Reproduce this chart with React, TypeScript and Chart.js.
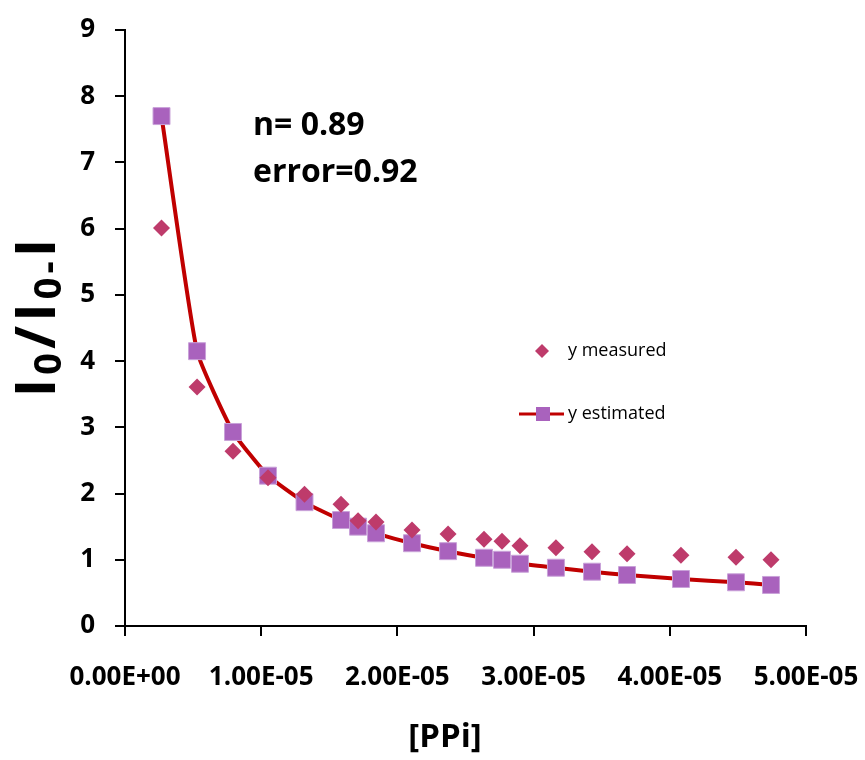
import React, { useEffect, useRef } from "react";
import { Chart, registerables } from "chart.js";

Chart.register(...registerables);

// ---- data ----
const xValues = [
  2.68e-6, 5.29e-6, 7.93e-6, 1.05e-5, 1.318e-5, 1.586e-5, 1.711e-5, 1.843e-5,
  2.107e-5, 2.372e-5, 2.636e-5, 2.768e-5, 2.9e-5, 3.164e-5, 3.429e-5,
  3.686e-5, 4.082e-5, 4.486e-5, 4.743e-5,
];
const yMeasured = [
  6.01, 3.61, 2.64, 2.24, 1.99, 1.84, 1.59, 1.57, 1.45, 1.39, 1.31, 1.28, 1.21,
  1.18, 1.12, 1.09, 1.07, 1.04, 1.0,
];
const yEstimated = [
  7.7, 4.15, 2.93, 2.27, 1.87, 1.6, 1.5, 1.4, 1.25, 1.13, 1.03, 1.0, 0.94,
  0.88, 0.82, 0.77, 0.71, 0.66, 0.62,
];
const xTickLabels = [
  "0.00E+00",
  "1.00E-05",
  "2.00E-05",
  "3.00E-05",
  "4.00E-05",
  "5.00E-05",
];
const yTickLabels = ["0", "1", "2", "3", "4", "5", "6", "7", "8", "9"];
const seriesNames = ["y measured", "y estimated"];
const annotationLines = ["n= 0.89", "error=0.92"];
const xTitle = "[PPi]";
// y title pieces: [text, isSubscript]
const yTitleRuns: [string, boolean][] = [
  ["I", false],
  ["0", true],
  ["/", false],
  ["I", false],
  ["0", true],
  ["-", true],
  ["I", false],
];

const FONT = '"Open Sans", "Noto Sans", sans-serif';
const MEASURED_COLOR = "#BE3B6B";
const EST_FILL = "#A962BD";
const EST_BORDER = "#C9A2D9";
const LINE_COLOR = "#C00000";

const overlay = {
  id: "overlay",
  afterDraw(chart: any) {
    const ctx: CanvasRenderingContext2D = chart.ctx;
    ctx.save();
    ctx.fillStyle = "#000";

    // annotation text
    ctx.font = `bold 32px ${FONT}`;
    ctx.textAlign = "left";
    ctx.textBaseline = "alphabetic";
    ctx.fillText(annotationLines[0], 253, 135);
    ctx.fillText(annotationLines[1], 253, 182);

    // legend
    ctx.font = `18px ${FONT}`;
    ctx.textBaseline = "middle";
    ctx.fillStyle = MEASURED_COLOR;
    ctx.beginPath();
    ctx.moveTo(542 - 7, 351);
    ctx.lineTo(542, 351 - 7);
    ctx.lineTo(542 + 7, 351);
    ctx.lineTo(542, 351 + 7);
    ctx.closePath();
    ctx.fill();
    ctx.fillStyle = "#000";
    ctx.fillText(seriesNames[0], 568, 351);
    ctx.strokeStyle = LINE_COLOR;
    ctx.lineWidth = 3;
    ctx.beginPath();
    ctx.moveTo(519, 414);
    ctx.lineTo(564, 414);
    ctx.stroke();
    ctx.fillStyle = EST_FILL;
    ctx.fillRect(536, 407, 14, 14);
    ctx.fillStyle = "#000";
    ctx.fillText(seriesNames[1], 568, 414);

    // x title
    ctx.font = `bold 33px ${FONT}`;
    ctx.textAlign = "center";
    ctx.textBaseline = "alphabetic";
    ctx.fillText(xTitle, 445, 747);

    // y title (rotated)
    const bigFont = `bold 56px ${FONT}`;
    const subFont = `bold 38px ${FONT}`;
    const gap = 4;
    let total = 0;
    const widths = yTitleRuns.map(([t, sub]) => {
      ctx.font = sub ? subFont : bigFont;
      const w = ctx.measureText(t).width;
      total += w;
      return w;
    });
    total += gap * (yTitleRuns.length - 1);
    ctx.translate(55, 318);
    ctx.rotate(-Math.PI / 2);
    ctx.textAlign = "left";
    let cx = -total / 2;
    yTitleRuns.forEach(([t, sub], i) => {
      ctx.font = sub ? subFont : bigFont;
      ctx.fillText(t, cx, sub ? 6 : 0);
      cx += widths[i] + gap;
    });
    ctx.restore();
  },
};

export default function App() {
  const ref = useRef<HTMLCanvasElement | null>(null);

  useEffect(() => {
    if (!ref.current) return;
    const tickFont = { family: FONT, size: 26, weight: "bold" as const };
    const chart = new Chart(ref.current, {
      type: "scatter",
      data: {
        datasets: [
          {
            label: seriesNames[0],
            data: xValues.map((x, i) => ({ x, y: yMeasured[i] })),
            showLine: false,
            pointStyle: "rectRot",
            pointRadius: 8.5,
            pointHoverRadius: 8.5,
            backgroundColor: MEASURED_COLOR,
            borderColor: MEASURED_COLOR,
            borderWidth: 0,
          },
          {
            label: seriesNames[1],
            data: xValues.map((x, i) => ({ x, y: yEstimated[i] })),
            showLine: true,
            tension: 0.15,
            borderColor: LINE_COLOR,
            borderWidth: 4,
            backgroundColor: EST_FILL,
            pointStyle: "rect",
            pointRadius: 12,
            pointHoverRadius: 12,
            pointBackgroundColor: EST_FILL,
            pointBorderColor: EST_BORDER,
            pointBorderWidth: 1,
          },
        ],
      },
      options: {
        animation: false,
        responsive: false,
        devicePixelRatio: 1,
        layout: { padding: { top: 30, right: 59, left: 0, bottom: 0 } },
        plugins: {
          legend: { display: false },
          tooltip: { enabled: false },
        },
        scales: {
          x: {
            type: "linear",
            position: "bottom",
            min: 0,
            max: 5e-5,
            ticks: {
              stepSize: 1e-5,
              autoSkip: false,
              maxRotation: 0,
              padding: 26,
              color: "#000",
              font: tickFont,
              callback: (v: any) => xTickLabels[Math.round(Number(v) / 1e-5)],
            },
            grid: {
              drawOnChartArea: false,
              drawTicks: true,
              tickLength: 10,
              color: "#000",
              lineWidth: 2,
            },
            border: { color: "#000", width: 2 },
            afterFit: (s: any) => {
              s.height = 134;
              s.paddingLeft = 0;
              s.paddingRight = 0;
            },
          },
          y: {
            type: "linear",
            min: 0,
            max: 9,
            ticks: {
              stepSize: 1,
              padding: 20,
              color: "#000",
              font: tickFont,
              callback: (v: any) => yTickLabels[Math.round(Number(v))],
            },
            grid: {
              drawOnChartArea: false,
              drawTicks: true,
              tickLength: 10,
              color: "#000",
              lineWidth: 2,
            },
            border: { color: "#000", width: 2 },
            afterFit: (s: any) => {
              s.width = 125;
              s.paddingTop = 0;
              s.paddingBottom = 0;
            },
          },
        },
      },
      plugins: [overlay],
    });
    return () => chart.destroy();
  }, []);

  return (
    <div style={{ position: "absolute", left: 0, top: 0, width: 865, height: 760, background: "#fff" }}>
      <canvas ref={ref} width={865} height={760} style={{ display: "block" }} />
    </div>
  );
}
